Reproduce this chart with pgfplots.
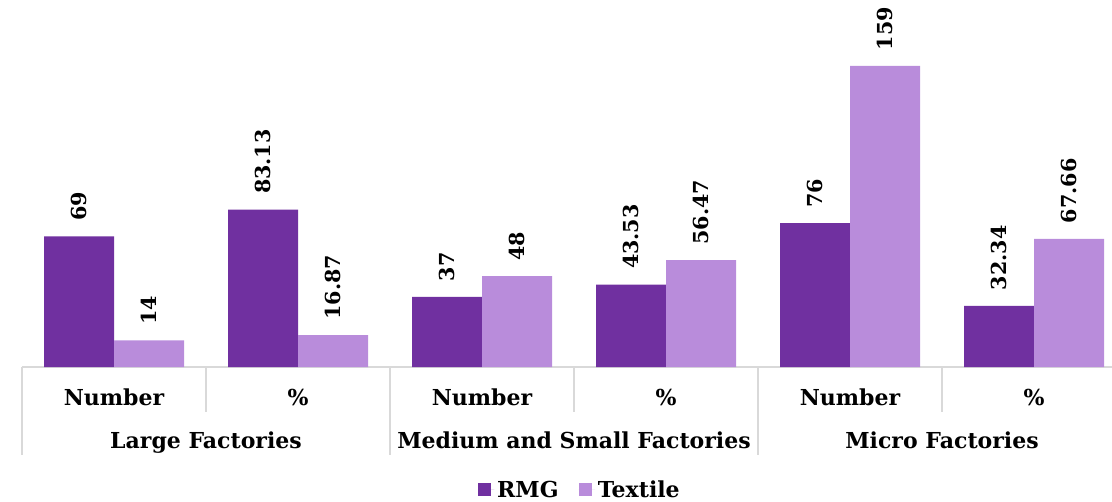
\documentclass[border=0pt]{standalone}
\usepackage{pgfplots}
\usepackage{pgfplotstable}
\pgfplotsset{compat=1.18}
\usepackage{fontspec}
\setmainfont{DejaVu Serif}

\definecolor{rmg}{HTML}{7030A0}
\definecolor{textile}{HTML}{B98CDB}
\definecolor{sepgray}{HTML}{D9D9D9}

% factory counts and shares, RMG vs Textile
\pgfplotstableread{
x rmg textile rmglab textilelab
0 69    14    69    14
1 83.13 16.87 83.13 16.87
2 37    48    37    48
3 43.53 56.47 43.53 56.47
4 76    159   76    159
5 32.34 67.66 32.34 67.66
}\factories

\newcommand{\labfont}{\bfseries\fontsize{16.5}{19}\selectfont}
\newcommand{\valfont}{\bfseries\fontsize{15.5}{18}\selectfont}

\begin{document}
\begin{tikzpicture}
\path[use as bounding box] (0,0) rectangle (834pt,375.75pt);
\begin{axis}[
  at={(16.5pt,100.5pt)}, anchor=south west,
  scale only axis, width=817.5pt, height=275.25pt,
  xmin=-0.5, xmax=5.4239, ymin=0, ymax=193.8,
  axis x line*=bottom, axis y line=none,
  x axis line style={sepgray, line width=0.9pt, -},
  xtick={0,...,5},
  xticklabels={Number,\%,Number,\%,Number,\%},
  major tick length=0pt,
  xticklabel style={font=\labfont, anchor=base, yshift=-28.5pt, inner sep=0pt},
  ytick=\empty,
  ybar=0pt, bar width=52.5pt,
  clip=false,
  point meta=explicit symbolic,
  nodes near coords,
  nodes near coords style={font=\valfont, rotate=90, anchor=west, inner sep=0pt, xshift=11.5pt},
  legend style={at={(0.512,-0.335)}, anchor=center, draw=none, fill=none,
    legend columns=2, font=\labfont,
    /tikz/every even column/.append style={column sep=13pt}},
  legend image code/.code={%
    \fill[#1] (0pt,-4.9pt) rectangle (9.75pt,4.9pt);
    \path (0pt,0pt) -- (12.5pt,0pt);},
]
\addplot[fill=rmg, draw=none] table[x=x, y=rmg, meta=rmglab] {\factories};
\addplot[fill=textile, draw=none] table[x=x, y=textile, meta=textilelab] {\factories};
\legend{RMG, Textile}

% group separators (long) and category separators (short) below the axis
\pgfplotsinvokeforeach{-0.5,1.5,3.5}{
  \draw[sepgray, line width=0.9pt] (axis cs:#1,0) -- ([yshift=-66pt]axis cs:#1,0);
}
\pgfplotsinvokeforeach{0.5,2.5,4.5}{
  \draw[sepgray, line width=0.9pt] (axis cs:#1,0) -- ([yshift=-33.75pt]axis cs:#1,0);
}
\node[font=\labfont, anchor=base, inner sep=0pt] at ([yshift=-60.75pt]axis cs:0.5,0) {Large Factories};
\node[font=\labfont, anchor=base, inner sep=0pt] at ([yshift=-60.75pt]axis cs:2.5,0) {Medium and Small Factories};
\node[font=\labfont, anchor=base, inner sep=0pt] at ([yshift=-60.75pt]axis cs:4.5,0) {Micro Factories};
\end{axis}
\end{tikzpicture}
\end{document}
